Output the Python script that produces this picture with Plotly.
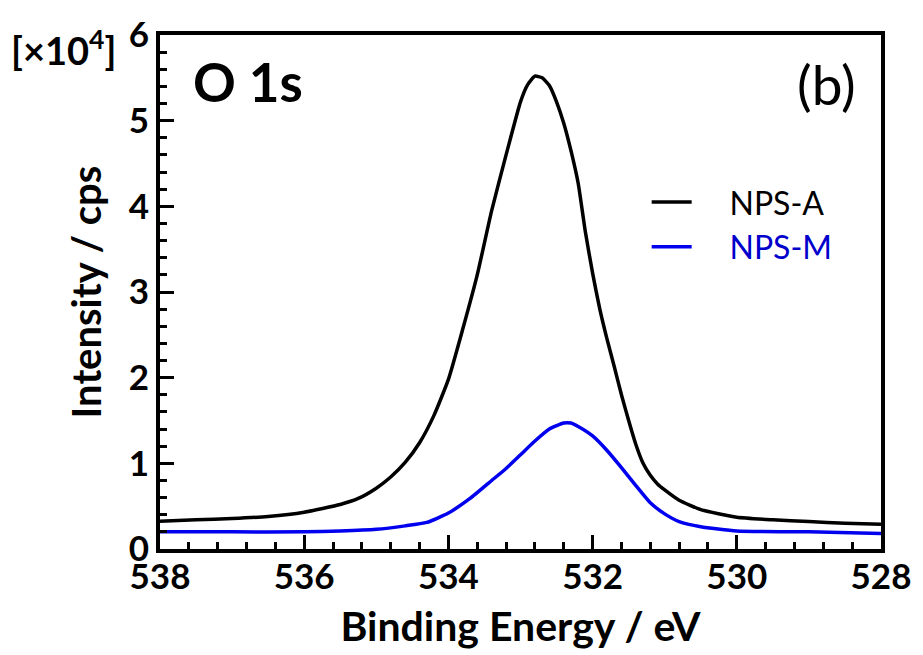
import plotly.graph_objects as go

# Binding energy (eV) and intensity (x10^4 cps)
energy_a = [538.0, 537.5, 537.0, 536.5, 536.0, 535.5, 535.25, 535.0, 534.8, 534.6, 534.4, 534.2,
            534.0, 533.8, 533.6, 533.4, 533.2, 533.0, 532.9, 532.8, 532.7, 532.6, 532.5, 532.4,
            532.3, 532.2, 532.1, 532.0, 531.9, 531.8, 531.7, 531.6, 531.5, 531.4, 531.3, 531.2,
            531.1, 531.0, 530.8, 530.5, 530.0, 529.5, 529.0, 528.5, 528.0]
intensity_a = [0.325, 0.34, 0.355, 0.38, 0.43, 0.52, 0.59, 0.71, 0.84, 1.01, 1.24, 1.56,
               1.98, 2.57, 3.20, 3.95, 4.60, 5.22, 5.42, 5.52, 5.50, 5.41, 5.22, 4.97,
               4.65, 4.27, 3.70, 3.22, 2.80, 2.45, 2.13, 1.80, 1.50, 1.22, 1.00, 0.86,
               0.76, 0.69, 0.57, 0.46, 0.37, 0.34, 0.32, 0.30, 0.29]

energy_m = [538.0, 537.0, 536.0, 535.5, 535.0, 534.6, 534.3, 534.0, 533.7, 533.4, 533.2, 533.0,
            532.8, 532.6, 532.4, 532.3, 532.2, 532.0, 531.8, 531.6, 531.4, 531.2, 531.0, 530.8,
            530.5, 530.0, 529.0, 528.0]
intensity_m = [0.20, 0.20, 0.20, 0.21, 0.23, 0.27, 0.31, 0.42, 0.59, 0.80, 0.94, 1.10,
               1.26, 1.40, 1.47, 1.47, 1.43, 1.32, 1.15, 0.95, 0.74, 0.54, 0.41, 0.32,
               0.26, 0.21, 0.20, 0.18]

FONT = "Lato"
PAD = "&nbsp;&nbsp;&nbsp;&nbsp;"

fig = go.Figure()
fig.add_trace(go.Scatter(x=energy_a, y=intensity_a, mode="lines", name=PAD + "NPS-A",
                         line=dict(color="black", width=3.5, shape="spline", smoothing=0.5)))
fig.add_trace(go.Scatter(x=energy_m, y=intensity_m, mode="lines",
                         name=PAD + "<span style='color:#0000CC'>NPS-M</span>",
                         line=dict(color="#0000EE", width=3.5, shape="spline", smoothing=0.5)))

axis_common = dict(showline=True, linewidth=4, linecolor="black", mirror=True,
                   ticks="inside", ticklen=14, tickwidth=3, tickcolor="black",
                   showgrid=False, zeroline=False,
                   tickfont=dict(family=FONT, size=35, color="black", weight="bold"))

fig.update_xaxes(range=[538, 528], dtick=2, tick0=528, ticklabelstandoff=-6,
                 minor=dict(dtick=0.4, ticks="inside", ticklen=7, tickwidth=3, tickcolor="black"),
                 title=dict(text="Binding Energy / eV", standoff=18,
                            font=dict(family=FONT, size=41, color="black", weight="bold")),
                 **axis_common)
fig.update_yaxes(range=[0, 6], dtick=1,
                 minor=dict(dtick=0.2, ticks="inside", ticklen=7, tickwidth=3, tickcolor="black"),
                 title=dict(text="Intensity / cps", standoff=16,
                            font=dict(family=FONT, size=40, color="black", weight="bold")),
                 **axis_common)

fig.add_annotation(x=0.043, y=(550 - 80) / 517, xref="paper", yref="paper",
                   xanchor="left", yanchor="middle",
                   text="O 1s", showarrow=False,
                   font=dict(family=FONT, size=53, color="black", weight="bold"))
fig.add_annotation(x=(862 - 160) / 725, y=(550 - 82) / 517, xref="paper", yref="paper",
                   xanchor="right", yanchor="middle",
                   text="(b)", showarrow=False,
                   font=dict(family=FONT, size=55, color="black"))
fig.add_annotation(x=(8 - 160) / 725, y=(550 - 46) / 517, xref="paper", yref="paper",
                   xanchor="left", yanchor="middle",
                   text="[×10<sup>4</sup>]", showarrow=False,
                   font=dict(family=FONT, size=38, color="black", weight="bold"))

fig.update_layout(
    width=923, height=655,
    margin=dict(l=160, r=38, t=33, b=105),
    paper_bgcolor="white", plot_bgcolor="white",
    showlegend=True,
    legend=dict(x=0.675, y=0.728, xanchor="left", yanchor="top",
                font=dict(family=FONT, size=32, color="black"),
                bgcolor="rgba(0,0,0,0)", tracegroupgap=0, itemwidth=40),
)

fig.write_html("out.html")
